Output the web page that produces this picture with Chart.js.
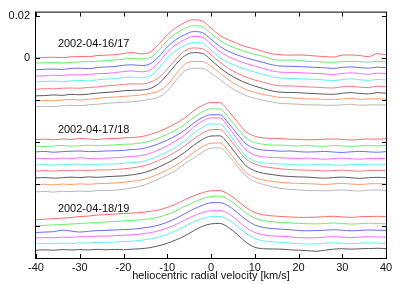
<!DOCTYPE html>
<html>
<head>
<meta charset="utf-8">
<script src="https://cdn.jsdelivr.net/npm/chart.js@4.4.0/dist/chart.umd.min.js"></script>
<style>
html, body { margin: 0; padding: 0; background: #fff; }
</style>
</head>
<body>
<canvas id="canvasprofil" width="405" height="284"></canvas>
<script>

// heliocentric radial velocity [km/s]
var velocity = [-40,-38,-36,-34,-32,-30,-28,-26,-24,-22,-20,-18,-16,-14,-12,-10,-8,-6,-4,-2,0,2,4,6,8,10,12,14,16,18,20,22,24,26,28,30,32,34,36,38,40];

var xTicks = [-40,-30,-20,-10,0,10,20,30,40];
var yTicks = [0.02,0,-0.02,-0.04,-0.06,-0.08];
var yTickLabels = ['0.02','0','','','',''];

var nightNames = ['2002-04-16/17','2002-04-17/18','2002-04-18/19'];
var nightLabelV = [-35,-35,-35];
var nightLabelY = [0.0066,-0.0341,-0.0717];

// 2002-04-16/17
var g1Red     = [0.0000,0.0002,0.0003,0.0001,0.0005,0.0007,0.0006,0.0011,0.0013,0.0015,0.0021,0.0025,0.0019,0.0027,0.0063,0.0110,0.0143,0.0168,0.0181,0.0175,0.0141,0.0107,0.0086,0.0068,0.0053,0.0043,0.0030,0.0019,0.0015,0.0013,0.0014,0.0012,0.0009,0.0006,0.0004,0.0013,0.0014,0.0011,0.0006,0.0020,0.0015];
var g1Green   = [-0.0025,-0.0023,-0.0022,-0.0024,-0.0021,-0.0019,-0.0018,-0.0016,-0.0012,-0.0010,-0.0006,-0.0002,-0.0005,0.0000,0.0034,0.0083,0.0116,0.0139,0.0153,0.0148,0.0116,0.0083,0.0060,0.0043,0.0029,0.0017,0.0007,-0.0006,-0.0011,-0.0010,-0.0012,-0.0016,-0.0018,-0.0020,-0.0021,-0.0018,-0.0016,-0.0018,-0.0020,-0.0016,-0.0019];
var g1Blue    = [-0.0056,-0.0054,-0.0053,-0.0055,-0.0050,-0.0049,-0.0051,-0.0046,-0.0043,-0.0041,-0.0035,-0.0033,-0.0036,-0.0029,0.0004,0.0052,0.0087,0.0110,0.0125,0.0120,0.0089,0.0055,0.0031,0.0014,0.0000,-0.0011,-0.0022,-0.0033,-0.0039,-0.0040,-0.0041,-0.0043,-0.0045,-0.0047,-0.0050,-0.0045,-0.0043,-0.0046,-0.0049,-0.0044,-0.0047];
var g1Magenta = [-0.0086,-0.0085,-0.0082,-0.0084,-0.0080,-0.0081,-0.0078,-0.0075,-0.0074,-0.0070,-0.0065,-0.0062,-0.0066,-0.0058,-0.0023,0.0028,0.0063,0.0087,0.0102,0.0098,0.0065,0.0030,0.0006,-0.0012,-0.0027,-0.0039,-0.0050,-0.0062,-0.0068,-0.0069,-0.0070,-0.0072,-0.0074,-0.0076,-0.0079,-0.0074,-0.0071,-0.0074,-0.0078,-0.0072,-0.0075];
var g1Cyan    = [-0.0114,-0.0112,-0.0110,-0.0113,-0.0109,-0.0107,-0.0109,-0.0104,-0.0101,-0.0099,-0.0093,-0.0091,-0.0095,-0.0086,-0.0051,0.0000,0.0035,0.0059,0.0074,0.0070,0.0037,0.0002,-0.0022,-0.0040,-0.0055,-0.0067,-0.0078,-0.0090,-0.0096,-0.0097,-0.0099,-0.0101,-0.0102,-0.0105,-0.0108,-0.0103,-0.0100,-0.0104,-0.0107,-0.0102,-0.0105];
var g1Red2    = [-0.0149,-0.0146,-0.0147,-0.0144,-0.0143,-0.0144,-0.0140,-0.0138,-0.0133,-0.0130,-0.0126,-0.0123,-0.0124,-0.0116,-0.0095,-0.0053,-0.0006,0.0033,0.0047,0.0044,0.0014,-0.0020,-0.0050,-0.0073,-0.0091,-0.0105,-0.0116,-0.0127,-0.0133,-0.0133,-0.0135,-0.0138,-0.0139,-0.0142,-0.0143,-0.0137,-0.0135,-0.0139,-0.0141,-0.0134,-0.0137];
var g1Dark    = [-0.0180,-0.0179,-0.0176,-0.0178,-0.0173,-0.0175,-0.0172,-0.0167,-0.0164,-0.0161,-0.0156,-0.0154,-0.0153,-0.0146,-0.0123,-0.0080,-0.0030,0.0010,0.0025,0.0022,-0.0010,-0.0046,-0.0076,-0.0100,-0.0119,-0.0134,-0.0146,-0.0157,-0.0163,-0.0164,-0.0165,-0.0168,-0.0170,-0.0172,-0.0173,-0.0168,-0.0165,-0.0169,-0.0171,-0.0165,-0.0168];
var g1Orange  = [-0.0205,-0.0202,-0.0204,-0.0200,-0.0198,-0.0200,-0.0196,-0.0193,-0.0188,-0.0186,-0.0183,-0.0180,-0.0176,-0.0169,-0.0158,-0.0128,-0.0077,-0.0030,-0.0017,-0.0017,-0.0040,-0.0071,-0.0104,-0.0129,-0.0150,-0.0164,-0.0174,-0.0182,-0.0188,-0.0189,-0.0192,-0.0195,-0.0195,-0.0198,-0.0197,-0.0195,-0.0192,-0.0197,-0.0195,-0.0194,-0.0196];
var g1Light   = [-0.0232,-0.0230,-0.0231,-0.0227,-0.0225,-0.0227,-0.0223,-0.0220,-0.0216,-0.0213,-0.0211,-0.0208,-0.0204,-0.0197,-0.0187,-0.0157,-0.0107,-0.0062,-0.0050,-0.0049,-0.0072,-0.0102,-0.0134,-0.0159,-0.0179,-0.0192,-0.0202,-0.0210,-0.0216,-0.0218,-0.0220,-0.0223,-0.0223,-0.0225,-0.0225,-0.0223,-0.0220,-0.0225,-0.0223,-0.0223,-0.0224];

// 2002-04-17/18
var g2Red     = [-0.0388,-0.0386,-0.0389,-0.0385,-0.0387,-0.0383,-0.0385,-0.0387,-0.0384,-0.0383,-0.0380,-0.0378,-0.0374,-0.0364,-0.0350,-0.0332,-0.0311,-0.0285,-0.0252,-0.0226,-0.0212,-0.0212,-0.0252,-0.0303,-0.0350,-0.0372,-0.0380,-0.0382,-0.0383,-0.0386,-0.0387,-0.0389,-0.0388,-0.0386,-0.0385,-0.0387,-0.0390,-0.0387,-0.0385,-0.0386,-0.0384];
var g2Green   = [-0.0419,-0.0421,-0.0418,-0.0416,-0.0419,-0.0417,-0.0414,-0.0417,-0.0415,-0.0413,-0.0410,-0.0409,-0.0404,-0.0396,-0.0380,-0.0363,-0.0341,-0.0316,-0.0283,-0.0256,-0.0242,-0.0243,-0.0282,-0.0334,-0.0380,-0.0402,-0.0410,-0.0414,-0.0414,-0.0417,-0.0418,-0.0416,-0.0419,-0.0420,-0.0416,-0.0418,-0.0420,-0.0417,-0.0416,-0.0418,-0.0415];
var g2Blue    = [-0.0446,-0.0444,-0.0448,-0.0445,-0.0443,-0.0442,-0.0445,-0.0444,-0.0442,-0.0441,-0.0439,-0.0435,-0.0432,-0.0422,-0.0408,-0.0390,-0.0369,-0.0343,-0.0310,-0.0284,-0.0270,-0.0270,-0.0310,-0.0361,-0.0408,-0.0430,-0.0438,-0.0440,-0.0443,-0.0442,-0.0445,-0.0447,-0.0446,-0.0444,-0.0447,-0.0449,-0.0446,-0.0444,-0.0446,-0.0448,-0.0445];
var g2Magenta = [-0.0479,-0.0477,-0.0480,-0.0476,-0.0478,-0.0474,-0.0477,-0.0479,-0.0476,-0.0474,-0.0471,-0.0468,-0.0464,-0.0453,-0.0437,-0.0417,-0.0394,-0.0366,-0.0329,-0.0301,-0.0285,-0.0285,-0.0329,-0.0385,-0.0437,-0.0461,-0.0470,-0.0472,-0.0475,-0.0476,-0.0478,-0.0476,-0.0479,-0.0481,-0.0478,-0.0476,-0.0479,-0.0481,-0.0478,-0.0477,-0.0479];
var g2Cyan    = [-0.0508,-0.0506,-0.0509,-0.0507,-0.0505,-0.0504,-0.0507,-0.0506,-0.0504,-0.0504,-0.0500,-0.0497,-0.0493,-0.0482,-0.0466,-0.0446,-0.0423,-0.0395,-0.0358,-0.0330,-0.0314,-0.0314,-0.0358,-0.0414,-0.0466,-0.0490,-0.0499,-0.0501,-0.0504,-0.0505,-0.0507,-0.0508,-0.0506,-0.0505,-0.0508,-0.0510,-0.0507,-0.0505,-0.0506,-0.0504,-0.0506];
var g2Red2    = [-0.0537,-0.0535,-0.0538,-0.0534,-0.0536,-0.0533,-0.0535,-0.0532,-0.0532,-0.0530,-0.0527,-0.0522,-0.0516,-0.0504,-0.0487,-0.0468,-0.0445,-0.0417,-0.0386,-0.0358,-0.0341,-0.0340,-0.0379,-0.0432,-0.0480,-0.0504,-0.0516,-0.0522,-0.0527,-0.0530,-0.0532,-0.0533,-0.0534,-0.0537,-0.0535,-0.0533,-0.0536,-0.0538,-0.0535,-0.0534,-0.0536];
var g2Dark    = [-0.0570,-0.0568,-0.0571,-0.0569,-0.0566,-0.0568,-0.0565,-0.0567,-0.0564,-0.0562,-0.0560,-0.0555,-0.0548,-0.0536,-0.0519,-0.0499,-0.0476,-0.0448,-0.0416,-0.0388,-0.0371,-0.0370,-0.0409,-0.0463,-0.0512,-0.0536,-0.0548,-0.0554,-0.0560,-0.0563,-0.0565,-0.0566,-0.0569,-0.0571,-0.0568,-0.0566,-0.0569,-0.0572,-0.0569,-0.0567,-0.0569];
var g2Orange  = [-0.0602,-0.0600,-0.0603,-0.0599,-0.0601,-0.0598,-0.0600,-0.0597,-0.0596,-0.0594,-0.0591,-0.0586,-0.0580,-0.0568,-0.0551,-0.0532,-0.0509,-0.0481,-0.0450,-0.0422,-0.0405,-0.0404,-0.0443,-0.0496,-0.0544,-0.0568,-0.0580,-0.0586,-0.0591,-0.0594,-0.0596,-0.0597,-0.0599,-0.0601,-0.0598,-0.0596,-0.0599,-0.0601,-0.0598,-0.0597,-0.0599];
var g2Light   = [-0.0636,-0.0634,-0.0637,-0.0633,-0.0635,-0.0632,-0.0634,-0.0630,-0.0629,-0.0628,-0.0624,-0.0617,-0.0608,-0.0594,-0.0575,-0.0556,-0.0533,-0.0502,-0.0476,-0.0448,-0.0429,-0.0427,-0.0462,-0.0514,-0.0561,-0.0587,-0.0601,-0.0612,-0.0620,-0.0624,-0.0627,-0.0629,-0.0630,-0.0631,-0.0629,-0.0627,-0.0630,-0.0632,-0.0628,-0.0627,-0.0629];

// 2002-04-18/19
var g3Red     = [-0.0769,-0.0766,-0.0763,-0.0761,-0.0758,-0.0753,-0.0751,-0.0746,-0.0744,-0.0742,-0.0738,-0.0737,-0.0734,-0.0729,-0.0722,-0.0710,-0.0694,-0.0673,-0.0655,-0.0640,-0.0631,-0.0630,-0.0647,-0.0677,-0.0710,-0.0734,-0.0745,-0.0750,-0.0753,-0.0755,-0.0757,-0.0757,-0.0756,-0.0754,-0.0752,-0.0755,-0.0757,-0.0754,-0.0753,-0.0752,-0.0754];
var g3Green   = [-0.0797,-0.0795,-0.0793,-0.0791,-0.0789,-0.0786,-0.0784,-0.0781,-0.0779,-0.0777,-0.0774,-0.0772,-0.0769,-0.0764,-0.0756,-0.0743,-0.0726,-0.0705,-0.0686,-0.0669,-0.0658,-0.0656,-0.0672,-0.0702,-0.0736,-0.0761,-0.0773,-0.0778,-0.0781,-0.0783,-0.0786,-0.0787,-0.0788,-0.0786,-0.0784,-0.0786,-0.0789,-0.0787,-0.0785,-0.0786,-0.0788];
var g3Blue    = [-0.0829,-0.0827,-0.0825,-0.0818,-0.0822,-0.0827,-0.0823,-0.0820,-0.0819,-0.0817,-0.0815,-0.0813,-0.0809,-0.0803,-0.0794,-0.0780,-0.0762,-0.0740,-0.0718,-0.0700,-0.0688,-0.0687,-0.0703,-0.0734,-0.0768,-0.0793,-0.0805,-0.0810,-0.0813,-0.0816,-0.0819,-0.0821,-0.0820,-0.0818,-0.0816,-0.0818,-0.0821,-0.0819,-0.0817,-0.0818,-0.0819];
var g3Magenta = [-0.0855,-0.0853,-0.0854,-0.0851,-0.0852,-0.0849,-0.0849,-0.0846,-0.0846,-0.0844,-0.0842,-0.0840,-0.0836,-0.0830,-0.0821,-0.0808,-0.0791,-0.0770,-0.0750,-0.0735,-0.0726,-0.0725,-0.0740,-0.0771,-0.0805,-0.0829,-0.0840,-0.0845,-0.0847,-0.0850,-0.0853,-0.0855,-0.0854,-0.0851,-0.0849,-0.0851,-0.0853,-0.0851,-0.0849,-0.0850,-0.0851];
var g3Cyan    = [-0.0883,-0.0881,-0.0882,-0.0879,-0.0881,-0.0878,-0.0879,-0.0876,-0.0876,-0.0874,-0.0872,-0.0870,-0.0866,-0.0860,-0.0851,-0.0837,-0.0820,-0.0799,-0.0779,-0.0763,-0.0754,-0.0753,-0.0768,-0.0799,-0.0833,-0.0857,-0.0869,-0.0873,-0.0876,-0.0879,-0.0882,-0.0884,-0.0883,-0.0880,-0.0878,-0.0880,-0.0882,-0.0880,-0.0878,-0.0879,-0.0881];
var g3Dark    = [-0.0913,-0.0911,-0.0913,-0.0910,-0.0912,-0.0910,-0.0912,-0.0909,-0.0911,-0.0909,-0.0911,-0.0908,-0.0906,-0.0901,-0.0892,-0.0880,-0.0864,-0.0845,-0.0821,-0.0800,-0.0788,-0.0786,-0.0805,-0.0838,-0.0875,-0.0899,-0.0906,-0.0907,-0.0908,-0.0911,-0.0913,-0.0915,-0.0918,-0.0913,-0.0908,-0.0906,-0.0908,-0.0906,-0.0905,-0.0904,-0.0905];

var cRed = '#ff6a6a', cGreen = '#6aee6a', cBlue = '#6a6aff', cMagenta = '#ff6aff', cCyan = '#5ff2f2',
	cRed2 = '#ff7777', cDark = '#5a5a5a', cOrange = '#ff9a6a', cLight = '#b8b8b8';

var series = [
	[g1Red, cRed], [g1Green, cGreen], [g1Blue, cBlue], [g1Magenta, cMagenta], [g1Cyan, cCyan],
	[g1Red2, cRed2], [g1Dark, cDark], [g1Orange, cOrange], [g1Light, cLight],
	[g2Red, cRed], [g2Green, cGreen], [g2Blue, cBlue], [g2Magenta, cMagenta], [g2Cyan, cCyan],
	[g2Red2, cRed2], [g2Dark, cDark], [g2Orange, cOrange], [g2Light, cLight],
	[g3Red, cRed], [g3Green, cGreen], [g3Blue, cBlue], [g3Magenta, cMagenta], [g3Cyan, cCyan],
	[g3Dark, cDark]
];

var font_main = "'Liberation Sans', Arial, sans-serif";

function to_points(values){
	return velocity.map(function(v, i){ return {x: v, y: values[i]}; });
}

// gnuplot style frame: box with inward ticks on all four sides, plus night labels
var frame_plugin = {
	id: 'frame',
	afterDraw: function(chart){
		var ctx = chart.ctx;
		var a = chart.chartArea;
		var sx = chart.scales.x, sy = chart.scales.y;
		var tl = 4;
		ctx.save();
		ctx.strokeStyle = '#000';
		ctx.lineWidth = 1;
		ctx.strokeRect(a.left - 0.5, a.top - 0.5, a.right - a.left + 1, a.bottom - a.top + 1);
		ctx.beginPath();
		xTicks.forEach(function(v){
			var px = Math.round(sx.getPixelForValue(v)) + 0.5;
			ctx.moveTo(px, a.bottom); ctx.lineTo(px, a.bottom - tl);
			ctx.moveTo(px, a.top); ctx.lineTo(px, a.top + tl);
		});
		yTicks.forEach(function(v){
			var py = Math.round(sy.getPixelForValue(v)) + 0.5;
			ctx.moveTo(a.left, py); ctx.lineTo(a.left + tl, py);
			ctx.moveTo(a.right, py); ctx.lineTo(a.right - tl, py);
		});
		ctx.stroke();

		ctx.fillStyle = '#111';
		ctx.font = '11px ' + font_main;
		ctx.textAlign = 'left';
		ctx.textBaseline = 'middle';
		nightNames.forEach(function(name, i){
			ctx.fillText(name, sx.getPixelForValue(nightLabelV[i]), sy.getPixelForValue(nightLabelY[i]));
		});
		ctx.restore();
	}
};

var chart_line_settings = {
	type: 'line',
	data: {
		datasets: series.map(function(s){
			return {
				data: to_points(s[0]),
				borderColor: s[1],
				borderWidth: 1,
				pointRadius: 0,
				fill: false,
				cubicInterpolationMode: 'monotone'
			};
		})
	},
	options: {
		responsive: false,
		animation: false,
		events: [],
		layout: { padding: { left: 0, right: 19, top: 10, bottom: 0 } },
		plugins: { legend: { display: false }, tooltip: { enabled: false } },
		scales: {
			x: {
				type: 'linear',
				min: -40,
				max: 40,
				grid: { display: false, drawTicks: false },
				border: { display: false },
				afterBuildTicks: function(scale){ scale.ticks = xTicks.map(function(v){ return {value: v}; }); },
				afterFit: function(scale){ scale.height = 26; },
				ticks: { color: '#111', padding: 3, maxRotation: 0, font: { family: font_main, size: 11 } },
				title: {
					display: true,
					text: 'heliocentric radial velocity [km/s]',
					color: '#111',
					padding: { top: 0, bottom: 1 },
					font: { family: font_main, size: 11 }
				}
			},
			y: {
				type: 'linear',
				min: -0.095,
				max: 0.0215,
				grid: { display: false, drawTicks: false },
				border: { display: false },
				afterBuildTicks: function(scale){ scale.ticks = yTicks.map(function(v){ return {value: v}; }); },
				afterFit: function(scale){ scale.width = 36; },
				ticks: {
					color: '#111',
					padding: 6,
					font: { family: font_main, size: 11 },
					callback: function(value, index){ return yTickLabels[index]; }
				}
			}
		}
	},
	plugins: [frame_plugin]
};

var chart_line = new Chart(document.getElementById('canvasprofil'), chart_line_settings);

</script>
</body>
</html>
